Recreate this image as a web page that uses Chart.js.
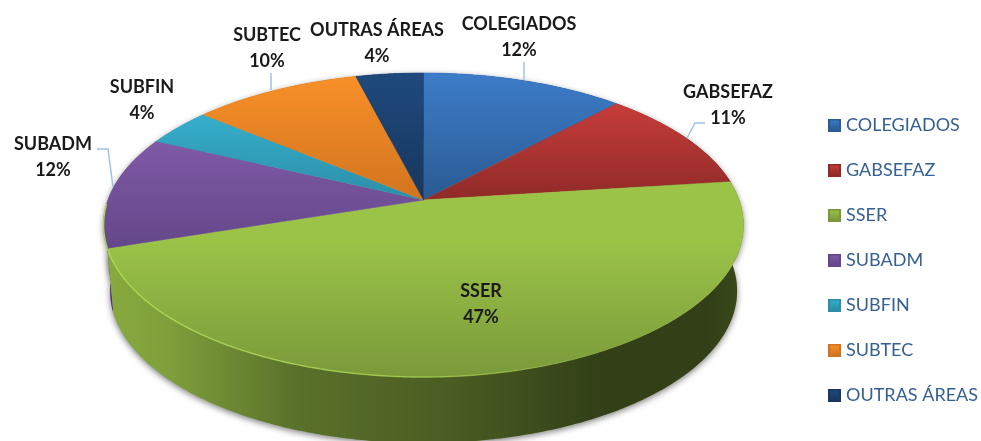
<!DOCTYPE html>
<html>
<head>
<meta charset="utf-8">
<title>Pizza 3D</title>
<script src="https://cdn.jsdelivr.net/npm/chart.js@4"></script>
<style>
  html, body { margin: 0; padding: 0; background: #fff; overflow: hidden; }
  canvas { display: block; }
</style>
</head>
<body>
<canvas id="pie3d" width="981" height="441"></canvas>
<script>
const categories = ["COLEGIADOS", "GABSEFAZ", "SSER", "SUBADM", "SUBFIN", "SUBTEC", "OUTRAS ÁREAS"];
const percentages = [12, 11, 47, 12, 4, 10, 4];

const baseColors = ["#3d7cc9", "#c63d3a", "#9bc348", "#7f5aa5", "#35aecb", "#f79028", "#1f497d"];
const darkColors = ["#2a5b92", "#8f2a28", "#7a9a3a", "#64478a", "#2c8ea6", "#d2741f", "#17375e"];

// perspective of the disc: width, y scale and tilt of the homography
const pieView = { radius: 315.6, yScale: 147.9, tilt: 0.1645, depth: 66, lowerScale: 0.98, shiftY: -15.5 };
// darkness of the wall from left to right
const wallShade = [[0, 0.12], [0.1, 0.18], [0.3, 0.42], [0.55, 0.53], [0.78, 0.68], [0.94, 0.68], [1, 0.62]];

// label centre + optional leader line, per slice
const labelPlaces = [
    { x: 519, y: 24, leader: [[524, 62], [524, 80]] },
    { x: 728, y: 92, leader: [[705, 123], [695, 123], [687, 138]] },
    { x: 481, y: 291 },
    { x: 53, y: 144, leader: [[97, 149], [108, 149], [113, 187]] },
    { x: 142, y: 87 },
    { x: 267, y: 35, leader: [[271, 73], [271, 90]] },
    { x: 377, y: 30 }
];

function project(arc, angle) {
    let u = Math.cos(angle);
    let v = Math.sin(angle);
    let w = 1 - pieView.tilt * v;
    return {
        x: arc.x + pieView.radius * u / w,
        y: arc.y + pieView.shiftY + pieView.yScale * v / w,
        front: v > 0.02
    };
}

function rimPoints(arc) {
    let pts = [];
    let n = Math.ceil((arc.endAngle - arc.startAngle) / 0.01);
    for (let i = 0; i <= n; i++) {
        pts.push(project(arc, arc.startAngle + (arc.endAngle - arc.startAngle) * i / n));
    }
    return pts;
}

function lowerPoint(arc, p) {
    return {
        x: arc.x + (p.x - arc.x) * pieView.lowerScale,
        y: p.y + pieView.depth
    };
}

function drawWall(ctx, arc, color) {
    let pts = rimPoints(arc);
    let left = arc.x - pieView.radius * 1.02;
    let right = arc.x + pieView.radius * 1.02;

    ctx.beginPath();
    pts.forEach((p, i) => i ? ctx.lineTo(p.x, p.y) : ctx.moveTo(p.x, p.y));
    pts.slice().reverse().forEach(p => {
        let q = lowerPoint(arc, p);
        ctx.lineTo(q.x, q.y);
    });
    ctx.closePath();

    ctx.save();
    ctx.shadowColor = "rgba(0,0,0,0.5)";
    ctx.shadowBlur = 6;
    ctx.shadowOffsetY = 2;
    ctx.fillStyle = color;
    ctx.fill();
    ctx.restore();

    let shade = ctx.createLinearGradient(left, 0, right, 0);
    wallShade.forEach(s => shade.addColorStop(s[0], "rgba(0,0,0," + s[1] + ")"));
    ctx.fillStyle = shade;
    ctx.fill();
}

function drawTop(ctx, arc, index) {
    let pts = rimPoints(arc);
    let apexY = arc.y + pieView.shiftY;
    let ys = pts.map(p => p.y).concat(apexY);
    let top = Math.min(...ys);
    let bottom = Math.max(...ys);

    let fill = ctx.createLinearGradient(0, top, 0, bottom);
    fill.addColorStop(0, baseColors[index]);
    if (bottom - apexY > 50) fill.addColorStop(0.3, baseColors[index]);
    fill.addColorStop(1, darkColors[index]);

    ctx.beginPath();
    ctx.moveTo(arc.x, apexY);
    pts.forEach(p => ctx.lineTo(p.x, p.y));
    ctx.closePath();
    ctx.fillStyle = fill;
    ctx.fill();
    // hide the antialiasing seam between neighbouring slices
    ctx.strokeStyle = fill;
    ctx.lineWidth = 0.6;
    ctx.stroke();

    // thin bright bevel on the front rim, fading out to the right
    ctx.beginPath();
    let started = false;
    pts.forEach(p => {
        if (!p.front) return;
        if (started) ctx.lineTo(p.x, p.y);
        else ctx.moveTo(p.x, p.y);
        started = true;
    });
    if (started) {
        let bevel = ctx.createLinearGradient(arc.x - pieView.radius, 0, arc.x + pieView.radius, 0);
        bevel.addColorStop(0, "rgba(172,214,82,1)");
        bevel.addColorStop(0.5, "rgba(172,214,82,0.7)");
        bevel.addColorStop(0.8, "rgba(172,214,82,0)");
        ctx.strokeStyle = bevel;
        ctx.lineWidth = 1.4;
        ctx.stroke();
    }
}

const pie3dPlugin = {
    id: "pie3d",
    beforeDatasetsDraw(chart) {
        let ctx = chart.ctx;
        let arcs = chart.getDatasetMeta(0).data;

        ctx.save();
        [3, 1, 0, 4, 5, 6, 2].forEach(i => drawWall(ctx, arcs[i], baseColors[i]));
        arcs.forEach((arc, i) => drawTop(ctx, arc, i));

        ctx.font = "bold 18px Lato";
        ctx.textAlign = "center";
        ctx.textBaseline = "middle";
        arcs.forEach((arc, i) => {
            let place = labelPlaces[i];
            ctx.fillStyle = "#1a1a1a";
            ctx.fillText(categories[i], place.x, place.y);
            ctx.fillText(percentages[i] + "%", place.x, place.y + 26);
            if (place.leader) {
                ctx.beginPath();
                place.leader.forEach((p, k) => k ? ctx.lineTo(p[0], p[1]) : ctx.moveTo(p[0], p[1]));
                ctx.strokeStyle = "#9fc2e8";
                ctx.lineWidth = 1.5;
                ctx.stroke();
            }
        });
        ctx.restore();
        return false;
    }
};

// small bevelled square for the legend
function legendIcon(i) {
    let c = document.createElement("canvas");
    c.width = 13;
    c.height = 13;
    let g = c.getContext("2d");
    g.fillStyle = darkColors[i];
    g.fillRect(0, 0, 13, 13);
    let fill = g.createLinearGradient(0, 1, 0, 12);
    fill.addColorStop(0, baseColors[i]);
    fill.addColorStop(1, darkColors[i]);
    g.fillStyle = fill;
    g.fillRect(2, 2, 9, 9);
    return c;
}

new Chart(document.getElementById("pie3d"), {
    type: "pie",
    data: {
        labels: categories,
        datasets: [{
            data: percentages,
            backgroundColor: baseColors,
            borderWidth: 0
        }]
    },
    options: {
        responsive: false,
        animation: false,
        layout: { padding: { left: 42, right: -7, bottom: 10 } },
        plugins: {
            tooltip: { enabled: false },
            legend: {
                position: "right",
                align: "end",
                labels: {
                    usePointStyle: true,
                    boxWidth: 5,
                    padding: 27,
                    color: "#376092",
                    font: { family: "Lato", size: 18 },
                    generateLabels(chart) {
                        return categories.map((name, i) => ({
                            text: name,
                            index: i,
                            fontColor: "#376092",
                            fillStyle: baseColors[i],
                            lineWidth: 0,
                            pointStyle: legendIcon(i)
                        }));
                    }
                }
            }
        }
    },
    plugins: [pie3dPlugin]
});
</script>
</body>
</html>
